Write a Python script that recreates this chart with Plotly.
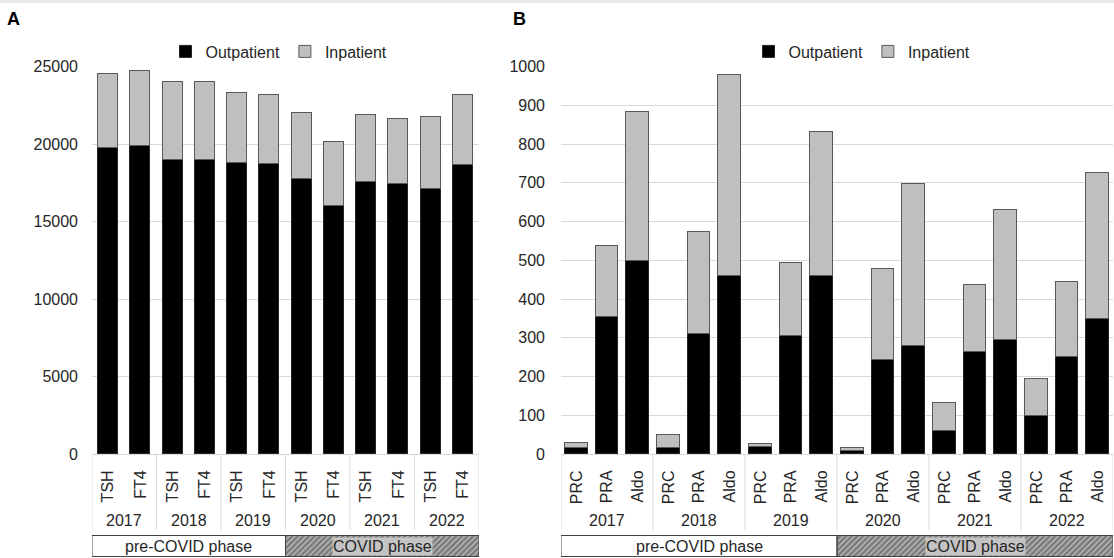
import plotly.graph_objects as go

# ---------------- data ----------------
years = ["2017", "2018", "2019", "2020", "2021", "2022"]
phases = ["pre-COVID phase", "COVID phase"]
phase_year_counts = [3, 3]

tests_a = ["TSH", "FT4"]
a_outpatient = [19770, 19930, 18980, 19020, 18780, 18720, 17800, 16050, 17560, 17430, 17150, 18660]
a_inpatient = [4800, 4810, 5050, 4990, 4570, 4470, 4210, 4110, 4370, 4240, 4620, 4510]

tests_b = ["PRC", "PRA", "Aldo"]
b_outpatient = [16, 354, 500, 15, 310, 460, 18, 305, 460, 9, 244, 280, 59, 265, 294, 99, 250, 349]
b_inpatient = [14, 183, 383, 36, 265, 519, 9, 190, 372, 8, 235, 417, 73, 172, 336, 95, 194, 377]

series_names = ["Outpatient", "Inpatient"]

# ---------------- layout constants ----------------
W, H = 1114, 558
FONT = "Liberation Sans, Arial, sans-serif"
TXT = "#262626"
GRID = "#d9d9d9"

def px_x(p):
    return p / W

def px_y(p):
    return 1 - p / H

plot_top, plot_bot = 66.7, 454.0
ydom = [px_y(plot_bot), px_y(plot_top)]
ph_top, ph_bot = 535.5, 556.5
phase_dom = [px_y(ph_bot), px_y(ph_top)]

fig = go.Figure()

panels = [
    dict(tests=tests_a, out=a_outpatient, inp=a_inpatient, xa="x", ya="y", xa_p="x3", ya_p="y3",
         dom=[px_x(92), px_x(479)], ymax=25000, dtick=5000, bw=0.62, legend="legend",
         leg_x=px_x(279), letter="A", letter_x=px_x(5), standoff=13),
    dict(tests=tests_b, out=b_outpatient, inp=b_inpatient, xa="x2", ya="y2", xa_p="x4", ya_p="y4",
         dom=[px_x(561), px_x(1113)], ymax=1000, dtick=100, bw=0.73, legend="legend2",
         leg_x=px_x(862), letter="B", letter_x=px_x(511), standoff=15),
]

annotations = []
shapes = []

# thin grey band at the very top
shapes.append(dict(type="rect", xref="paper", yref="paper", x0=0, x1=1, y0=px_y(3), y1=1,
                   fillcolor="#ebebeb", line=dict(width=0), layer="below"))

for i, p in enumerate(panels):
    k = len(p["tests"])
    n = k * len(years)
    xs = list(range(n))
    labels = [t for _ in years for t in p["tests"]]
    fig.add_trace(go.Bar(x=xs, y=p["out"], name=series_names[0], width=p["bw"],
                         marker=dict(color="#000000", line=dict(color="#262626", width=1)),
                         xaxis=p["xa"], yaxis=p["ya"], legend=p["legend"]))
    fig.add_trace(go.Bar(x=xs, y=p["inp"], name=series_names[1], width=p["bw"],
                         marker=dict(color="#bfbfbf", line=dict(color="#595959", width=1)),
                         xaxis=p["xa"], yaxis=p["ya"], legend=p["legend"]))

    xr = [-0.5, n - 0.5]
    axn = "" if i == 0 else "2"
    fig.layout["xaxis" + axn] = dict(
        domain=p["dom"], range=xr, anchor=p["ya"], tickmode="array", tickvals=xs, ticktext=labels,
        tickangle=-90, showgrid=False, zeroline=False, showline=True, linecolor=GRID, linewidth=1,
        ticks="", ticklabelstandoff=9, automargin=False,
        tickfont=dict(family=FONT, size=16, color=TXT))
    fig.layout["yaxis" + axn] = dict(
        domain=ydom, range=[0, p["ymax"]], dtick=p["dtick"], anchor=p["xa"], showgrid=True,
        gridcolor=GRID, gridwidth=1, zeroline=False, showline=False, ticks="", tickformat="d",
        ticklabelstandoff=p["standoff"], automargin=False,
        tickfont=dict(family=FONT, size=16, color=TXT))

    # year labels and separators
    for j, yr in enumerate(years):
        annotations.append(dict(text=yr, xref=p["xa"], yref="paper", x=j * k + (k - 1) / 2,
                                y=px_y(520), showarrow=False, xanchor="center", yanchor="middle",
                                font=dict(family=FONT, size=16, color=TXT)))
    for j in range(len(years) + 1):
        shapes.append(dict(type="line", xref=p["xa"], yref="paper", x0=j * k - 0.5, x1=j * k - 0.5,
                           y0=px_y(454), y1=px_y(530), line=dict(color=GRID, width=1)))

    # phase boxes: hatched fill via a bar on a helper axis, outline via shapes
    centers, widths, lefts = [], [], []
    start = 0
    for c in phase_year_counts:
        lefts.append(start * k - 0.5)
        centers.append(start * k + c * k / 2 - 0.5)
        widths.append(c * k)
        start += c
    fig.add_trace(go.Bar(x=centers, y=[1] * len(phases), width=widths, showlegend=False,
                         marker=dict(color=["#ffffff", "#7a7a7a"], line=dict(width=0),
                                     pattern=dict(shape=["", "/"], fgcolor="#7a7a7a", size=4,
                                                  solidity=0.35, bgcolor="#dcdcdc")),
                         xaxis=p["xa_p"], yaxis=p["ya_p"], hoverinfo="skip"))
    pn = "3" if i == 0 else "4"
    fig.layout["xaxis" + pn] = dict(domain=p["dom"], range=xr, visible=False, anchor=p["ya_p"])
    fig.layout["yaxis" + pn] = dict(domain=phase_dom, range=[0, 1], visible=False, anchor=p["xa_p"])
    for ph, cx, x0, w in zip(phases, centers, lefts, widths):
        is_covid = ph.startswith("COVID")
        shapes.append(dict(type="rect", xref=p["xa"], yref="paper", x0=x0, x1=x0 + w,
                           y0=phase_dom[0], y1=phase_dom[1], line=dict(color="#404040", width=1),
                           fillcolor="rgba(0,0,0,0)", layer="above"))
        annotations.append(dict(text=ph, xref=p["xa"], yref="paper", x=cx,
                                y=(phase_dom[0] + phase_dom[1]) / 2, showarrow=False,
                                xanchor="center", yanchor="middle",
                                bgcolor="#c4c4c4" if is_covid else None, borderpad=0,
                                font=dict(family=FONT, size=16, color=TXT)))

    # panel letter
    annotations.append(dict(text="<b>" + p["letter"] + "</b>", xref="paper", yref="paper",
                            x=p["letter_x"], y=px_y(19), showarrow=False, xanchor="left",
                            yanchor="middle", font=dict(family=FONT, size=18, color="#000")))

    # legend
    fig.layout[p["legend"]] = dict(orientation="h", x=p["leg_x"], xanchor="center", y=px_y(51.5),
                                   yanchor="middle", bgcolor="rgba(0,0,0,0)", itemwidth=30,
                                   traceorder="normal", tracegroupgap=0,
                                   font=dict(family=FONT, size=16, color=TXT))

fig.update_layout(
    width=W, height=H, margin=dict(l=0, r=0, t=0, b=0, pad=0, autoexpand=False),
    barmode="stack", bargap=0, plot_bgcolor="white", paper_bgcolor="white",
    annotations=annotations, shapes=shapes, font=dict(family=FONT, size=16, color=TXT),
)

fig.write_html("out.html", config={"displayModeBar": False},
               post_script="document.body.style.margin='0px';document.body.style.overflow='hidden';")
